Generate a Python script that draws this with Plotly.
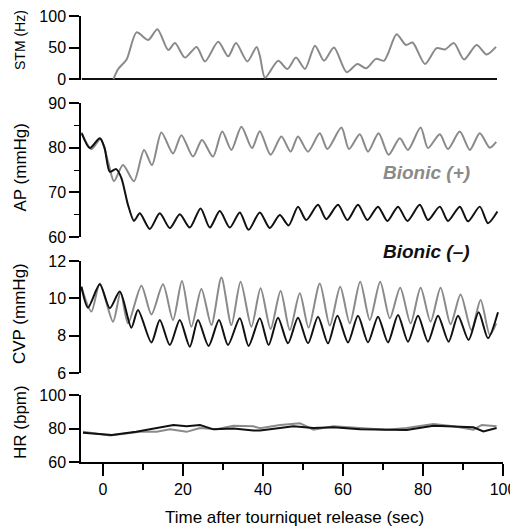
import plotly.graph_objects as go

# ---------------- data ----------------
# STM (Hz)
stm_plus_t = [2.6, 3.8, 5.9, 8.4, 11.3, 13.6, 16.3, 18.0, 20.5, 23.4, 25.5, 28.8, 31.3, 33.25, 36.1,
              38.4, 39.25, 40.5, 43.8, 46.1, 48.25, 50.5, 53.0, 55.25, 57.75, 60.9, 63.6, 65.75, 68.25,
              70.25, 71.3, 73.4, 75.75, 77.4, 80.5, 83.4, 85.5, 87.75, 90.25, 93.4, 95.9, 98.25]
stm_plus_v = [0, 16, 31, 74, 62, 79, 46, 57, 34, 51, 28, 59, 36, 57, 28,
              51, 36, 2, 29, 16, 34, 16, 53, 29, 50, 11, 24, 17, 32,
              29, 41, 71, 54, 58, 24, 49, 47, 57, 31, 54, 39, 51]
stm_minus_t = [-5.3, 98.5]
stm_minus_v = [0, 0]

# AP (mmHg)
ap_minus_t = [-5.3, -3.3, -0.8, 0.4, 1.7, 3.3, 4.6, 6.25, 7.75, 9.2, 11.7, 14.2, 16.7, 19.2, 21.7,
              24.4, 26.7, 29.2, 31.7, 34.2, 36.4, 39.2, 41.7, 44.2, 46.4, 48.75, 50.8, 53.75, 55.8,
              58.75, 61.1, 63.75, 66.1, 68.75, 71.1, 73.75, 76.1, 79.2, 81.25, 84.2, 86.25, 89.2,
              91.25, 94.2, 96.25, 98.6]
ap_minus_v = [83.2, 79.9, 82.1, 79.9, 74.6, 75.2, 73.2, 67.2, 63.6, 65.3, 61.8, 65.3, 62.0, 65.1, 62.1,
              66.4, 62.1, 65.8, 62.1, 65.5, 61.6, 65.5, 62.0, 64.9, 62.6, 66.8, 63.8, 67.2, 64.0,
              67.2, 63.8, 67.2, 63.8, 66.8, 63.6, 66.8, 63.6, 67.2, 63.8, 66.8, 63.6, 66.8,
              63.5, 66.8, 63.1, 65.7]
ap_plus_t = [-5.4, -2.9, -0.6, 1.25, 2.75, 5.0, 7.75, 10.25, 12.25, 14.6, 17.5, 19.6, 22.5, 24.75,
             27.5, 29.8, 32.1, 34.6, 37.25, 39.2, 41.9, 44.6, 46.9, 48.75, 51.25, 54.2, 56.1, 59.6,
             61.5, 64.2, 66.25, 68.9, 71.4, 74.2, 76.25, 79.4, 81.25, 84.2, 86.25, 89.2, 91.7, 94.2,
             96.7, 98.3]
ap_plus_v = [83.4, 79.7, 82.0, 76.9, 72.5, 76.1, 72.5, 79.5, 76.1, 83.4, 78.7, 82.8, 78.0, 81.7,
             78.0, 83.6, 79.5, 84.7, 79.9, 83.7, 78.4, 82.5, 79.1, 82.5, 79.1, 83.2, 79.7, 84.5,
             79.7, 83.0, 79.1, 83.2, 78.4, 82.1, 79.5, 84.5, 79.9, 83.0, 79.7, 83.6, 79.5, 83.2,
             80.0, 81.3]

# CVP (mmHg)
cvp_minus_t = [-5.4, -3.75, -0.8, 1.7, 4.2, 7.1, 8.75, 12.1, 14.2, 16.7, 19.2, 21.7, 23.75, 26.4,
               29.0, 31.25, 34.2, 36.4, 39.2, 41.4, 43.75, 46.25, 48.75, 51.25, 53.75, 56.25, 58.6,
               61.25, 63.75, 66.25, 68.75, 71.25, 73.75, 76.25, 78.75, 81.25, 83.75, 86.4, 88.75,
               91.4, 93.9, 96.25, 98.75]
cvp_minus_v = [10.62, 9.50, 10.75, 9.47, 10.36, 8.43, 9.38, 7.64, 8.84, 7.50, 8.84, 7.41, 8.84, 7.45,
               8.84, 7.50, 8.93, 7.45, 8.93, 7.50, 8.96, 7.59, 8.96, 7.59, 9.02, 7.59, 9.07,
               7.64, 9.07, 7.64, 9.02, 7.64, 9.11, 7.68, 9.07, 7.68, 9.07, 7.68, 9.07,
               7.77, 9.25, 7.86, 9.25]
cvp_plus_t = [-5.4, -2.9, -0.8, 2.5, 4.4, 6.25, 9.6, 12.1, 15.0, 17.5, 19.75, 22.1, 24.6, 27.1,
              29.6, 32.1, 34.4, 37.1, 39.4, 41.9, 44.4, 46.7, 49.2, 51.4, 54.2, 56.7, 59.3, 61.7,
              64.3, 66.7, 69.3, 71.7, 74.3, 76.9, 79.4, 81.9, 84.4, 86.9, 89.4, 92.1, 94.4, 96.7, 98.3]
cvp_plus_v = [10.62, 9.29, 10.8, 8.75, 10.32, 8.66, 10.68, 9.14, 10.75, 8.84, 10.93, 8.48, 10.5, 8.57,
              11.11, 8.57, 10.89, 8.48, 10.54, 8.36, 10.39, 8.30, 10.27, 8.43, 10.8, 8.54, 10.62, 8.66,
              10.89, 8.84, 10.89, 8.93, 10.57, 8.66, 10.57, 8.75, 10.57, 8.61, 10.21, 8.30, 9.91, 8.04, 8.66]

# HR (bpm)
hr_minus_t = [-5.0, 2.2, 8.3, 10.9, 14.25, 17.6, 20.9, 24.25, 27.6, 32.6, 37.6, 39.25, 44.25, 47.6,
              52.6, 57.6, 64.25, 70.9, 75.9, 82.6, 87.6, 92.6, 95.1, 98.4]
hr_minus_v = [77.5, 76.1, 78.0, 79.1, 80.7, 82.1, 81.3, 82.1, 79.5, 80.0, 78.8, 78.8, 80.3, 81.3,
              80.3, 80.7, 79.5, 79.5, 79.1, 81.7, 81.3, 80.7, 78.2, 80.3]
hr_plus_t = [-5.0, 1.75, 9.25, 13.4, 16.75, 20.9, 24.25, 28.4, 32.6, 37.6, 39.25, 44.25, 49.25, 52.6,
             57.6, 64.25, 70.9, 75.9, 82.6, 87.6, 92.6, 94.7, 98.4]
hr_plus_v = [78.0, 75.9, 78.0, 78.0, 79.6, 78.0, 80.3, 79.5, 81.7, 81.3, 80.1, 82.1, 83.1, 79.3,
             81.3, 80.3, 79.3, 80.3, 82.7, 81.3, 79.3, 82.1, 81.3]

x_ticks = [0, 20, 40, 60, 80, 100]
panel_titles = ["STM (Hz)", "AP (mmHg)", "CVP (mmHg)", "HR (bpm)"]
label_plus = "Bionic (+)"
label_minus = "Bionic (–)"

# ---------------- styling ----------------
GRAY = "#8a8a8a"
BLACK = "#111111"
FONT = "Liberation Sans, Arial, Helvetica, sans-serif"
OFF = 8  # page body margin offset

fig = go.Figure()

def add(t, v, yax, color, spline=True):
    fig.add_trace(go.Scatter(
        x=t, y=v, xaxis="x", yaxis=yax, mode="lines",
        line=dict(color=color, width=2, shape="spline" if spline else "linear", smoothing=0.75),
        showlegend=False, hoverinfo="skip"))

add(stm_minus_t, stm_minus_v, "y", BLACK, spline=False)
add(stm_plus_t, stm_plus_v, "y", GRAY)
add(ap_plus_t, ap_plus_v, "y2", GRAY)
add(ap_minus_t, ap_minus_v, "y2", BLACK)
add(cvp_plus_t, cvp_plus_v, "y3", GRAY)
add(cvp_minus_t, cvp_minus_v, "y3", BLACK)
add(hr_plus_t, hr_plus_v, "y4", GRAY, spline=False)
add(hr_minus_t, hr_minus_v, "y4", BLACK, spline=False)

TOP = 16  # page y of the top of the STM panel
H_PLOT = 462.0 - TOP  # plot-area height (px)
W_PLOT = 422.0  # plot-area width (px)
def dom(py_bottom, py_top):
    return [(462 - py_bottom) / H_PLOT, (462 - py_top) / H_PLOT]

def px(xp):
    return (xp - 81) / W_PLOT

def py(yp):
    return (462 - yp) / H_PLOT

common_y = dict(showline=True, linecolor="black", linewidth=1.5, ticks="outside", ticklen=10,
                tickwidth=1.5, tickcolor="black", showgrid=False, zeroline=False, anchor="x",
                automargin=False, ticklabeloverflow="allow",
                tickfont=dict(size=16, color="black", family=FONT), fixedrange=True)

fig.update_layout(
    width=518 - OFF, height=527 - OFF,
    margin=dict(l=81 - OFF, r=15, t=TOP - OFF, b=65, pad=0, autoexpand=False),
    paper_bgcolor="white", plot_bgcolor="white",
    font=dict(family=FONT, color="black"),
    xaxis=dict(range=[-5.5, 100], anchor="y4", showline=True, linecolor="black", linewidth=1.5,
               ticks="outside", ticklen=12, tickwidth=1.5, tickcolor="black", automargin=False,
               ticklabeloverflow="allow",
               tickvals=x_ticks, showgrid=False, zeroline=False,
               tickfont=dict(size=16, color="black", family=FONT),
               minor=dict(ticks="outside", ticklen=6, tickwidth=1.5, tickcolor="black", dtick=10, tick0=0)),
    yaxis=dict(common_y, domain=dom(80.0, TOP), range=[-1.5, 100], tickvals=[0, 50, 100]),
    yaxis2=dict(common_y, domain=dom(237, 103), range=[60, 90], tickvals=[60, 70, 80, 90],
                minor=dict(ticks="outside", ticklen=5, tickwidth=1, tickcolor="black", dtick=5, tick0=0)),
    yaxis3=dict(common_y, domain=dom(373, 261), range=[6, 12], tickvals=[6, 8, 10, 12]),
    yaxis4=dict(common_y, domain=dom(462, 395), range=[60, 100], tickvals=[60, 80, 100]),
)

# y-axis titles
title_pos = [(40, 14), (167.5, 17), (314, 17), (422, 17)]
for text, (yp, size) in zip(panel_titles, title_pos):
    fig.add_annotation(text=text, xref="paper", yref="paper",
                       x=px(20), y=py(yp),
                       xanchor="center", yanchor="middle", textangle=-90, showarrow=False,
                       font=dict(size=size, color="black", family=FONT))

# x-axis title
fig.add_annotation(text="Time after tourniquet release (sec)", xref="paper", yref="paper",
                   x=px(294), y=py(517), xanchor="center", yanchor="middle",
                   showarrow=False, font=dict(size=17, color="black", family=FONT))

# series labels
fig.add_annotation(text="<b><i>" + label_plus + "</i></b>", xref="paper", yref="paper",
                   x=px(426), y=py(172), xanchor="center", yanchor="middle",
                   showarrow=False, font=dict(size=19, color=GRAY, family=FONT))
fig.add_annotation(text="<b><i>" + label_minus + "</i></b>", xref="paper", yref="paper",
                   x=px(426), y=py(251), xanchor="center", yanchor="middle",
                   showarrow=False, font=dict(size=19, color=BLACK, family=FONT))

fig.write_html("out.html")
